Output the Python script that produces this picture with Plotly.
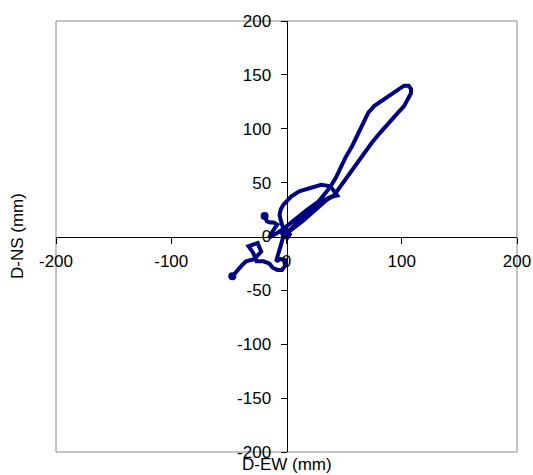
import plotly.graph_objects as go

# Orbit of displacement (mm): EW (x) vs NS (y)
d_ew = [-47, -44, -41, -38, -35, -31, -28,
        -22, -25, -33, -29, -27, -26, -20, -15, -12, -8, -4, -1, -1, -5, -9,
        -7, -5, -3, 0, 2, -1, -4, -3, 1, 3, 1, 4,
        9, 15, 20, 25, 30, 35, 40, 44, 40, 36, 30, 20, 11, 4, 1, -3, -5, -6, -5, -3, 0,
        5, 11, 17, 23, 29, 34, 38, 43, 47, 51, 57, 62, 67, 71, 76, 84, 92, 98, 102, 106,
        108, 108, 105, 102, 96, 89, 81, 74, 68, 62, 55, 50, 45, 41,
        33, 26, 17, 9, 2, -4, -10, -15, -12, -8, -11, -14, -17, -19]
d_ns = [-37, -33, -29, -26, -23, -21.5, -21,
        -14, -6, -9, -15, -20, -23, -23, -25, -29, -31, -31, -27, -22, -21, -23,
        -15, -6, -1, 3, 5, 7, 4, 0, -1, 2, 5, 6,
        10, 15, 20, 25, 30, 34, 37, 38, 44, 47, 48, 45, 42, 37, 34, 29, 25, 20, 15, 8, 3,
        8, 14, 20, 27, 34, 40, 46, 55, 65, 73, 84, 95, 106, 115, 121, 127, 133, 138, 140, 140,
        137, 133, 127, 121, 114, 106, 96, 87, 78, 68, 58, 50, 43, 38,
        34, 31, 24, 17, 11, 6, 2, -1, 5, 11, 13, 13, 14, 19]

x_ticks = [-200, -100, 0, 100, 200]
y_ticks = [-200, -150, -100, -50, 0, 50, 100, 150, 200]

navy = "#000080"
font = dict(family="Liberation Sans, Arial, sans-serif", size=17, color="black")

fig = go.Figure()
fig.add_trace(go.Scatter(x=d_ew, y=d_ns, mode="lines",
                         line=dict(color=navy, width=4), hoverinfo="skip"))
fig.add_trace(go.Scatter(x=[d_ew[0], d_ew[-1]], y=[d_ns[0], d_ns[-1]], mode="markers",
                         marker=dict(color=navy, size=8), hoverinfo="skip"))

fig.update_layout(
    width=533, height=475,
    margin=dict(l=56, r=16, t=21, b=23, autoexpand=False),
    paper_bgcolor="white", plot_bgcolor="white",
    showlegend=False,
    font=font,
    xaxis=dict(range=[-200, 200], anchor="free", position=0.5, automargin=False,
               showline=True, linecolor="black", linewidth=1,
               ticks="outside", ticklen=6, tickcolor="black",
               tickvals=x_ticks, ticktext=[str(v) for v in x_ticks],
               showgrid=False, zeroline=False, tickfont=font,
               ticklabelstandoff=3),
    yaxis=dict(range=[-200, 200], anchor="free", position=0.5, automargin=False,
               showline=True, linecolor="black", linewidth=1,
               ticks="outside", ticklen=6, tickcolor="black",
               tickvals=y_ticks, ticktext=[str(v) for v in y_ticks],
               showgrid=False, zeroline=False, tickfont=font,
               ticklabelstandoff=6),
    shapes=[dict(type="rect", xref="paper", yref="paper", x0=0, x1=1, y0=0, y1=1,
                 line=dict(color="#888888", width=1), layer="below")],
    annotations=[
        dict(text="D-EW (mm)", xref="paper", yref="paper", x=0.5, y=0,
             xanchor="center", yanchor="top", yshift=-1, showarrow=False, font=font),
        dict(text="D-NS (mm)", xref="paper", yref="paper", x=-0.0835, y=0.5,
             xanchor="center", yanchor="middle", textangle=-90, showarrow=False, font=font),
    ],
)

fig.write_html("out.html", config={"displayModeBar": False})
